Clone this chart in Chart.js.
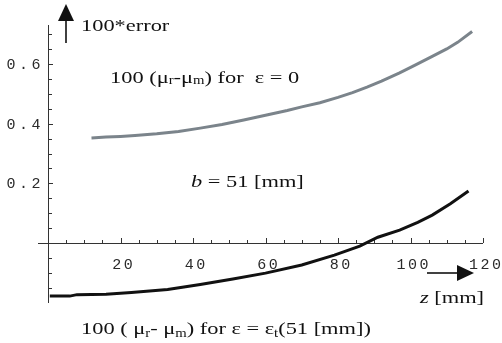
<!DOCTYPE html>
<html>
<head>
<meta charset="utf-8">
<script src="https://cdn.jsdelivr.net/npm/chart.js@4.4.1/dist/chart.umd.min.js"></script>
<style>
  html, body { margin: 0; padding: 0; background: #fff; }
  canvas { display: block; }
</style>
</head>
<body>
<canvas id="errChart" width="502" height="343"></canvas>
<script>
// z positions [mm] and 100*error values
const zGray = [12, 16, 20, 24, 30, 36, 42, 48, 54, 60, 66, 70, 75, 80, 84, 88, 92, 97, 101, 106, 110, 113, 117];
const errGray = [0.352, 0.355, 0.357, 0.360, 0.366, 0.374, 0.385, 0.397, 0.412, 0.428, 0.444, 0.456, 0.470, 0.488, 0.504, 0.522, 0.542, 0.570, 0.594, 0.625, 0.650, 0.672, 0.708];

const zBlack = [0.5, 6, 8, 16, 23, 33, 42, 51, 60, 70, 79, 86, 91, 97, 102, 106, 111, 116];
const errBlack = [-0.177, -0.177, -0.172, -0.171, -0.165, -0.155, -0.138, -0.120, -0.100, -0.073, -0.040, -0.010, 0.020, 0.044, 0.070, 0.094, 0.132, 0.175];

const xTickLabels = [20, 40, 60, 80, 100, 120];
const yTickLabels = [0.2, 0.4, 0.6];

const SX = 1.28; // the picture is stretched sideways

function drawRich(ctx, x, y, parts) {
    ctx.save();
    ctx.translate(x, y);
    ctx.scale(SX, 1);
    let cx = 0;
    parts.forEach(p => {
        ctx.font = p.f;
        ctx.fillText(p.t, cx, p.dy || 0);
        cx += ctx.measureText(p.t).width;
    });
    ctx.restore();
}

const serif = '17.5px "Liberation Serif"';
const serifIt = 'italic 17.5px "Liberation Serif"';
const small = '11.5px "Liberation Serif"';

function arrow(ctx, x1, y1, x2, y2) {
    const a = Math.atan2(y2 - y1, x2 - x1);
    const len = 17, hw = 8;
    const bx = x2 - len * Math.cos(a), by = y2 - len * Math.sin(a);
    ctx.beginPath();
    ctx.moveTo(x1, y1);
    ctx.lineTo(bx, by);
    ctx.lineWidth = 1.6;
    ctx.strokeStyle = '#111';
    ctx.stroke();
    ctx.beginPath();
    ctx.moveTo(x2, y2);
    ctx.lineTo(bx + hw * Math.sin(a), by - hw * Math.cos(a));
    ctx.lineTo(bx - hw * Math.sin(a), by + hw * Math.cos(a));
    ctx.closePath();
    ctx.fillStyle = '#111';
    ctx.fill();
}

const axesPlugin = {
    id: 'mmaAxes',
    beforeDatasetsDraw(chart) {
        const ctx = chart.ctx;
        const xs = chart.scales.x, ys = chart.scales.y;
        const x0 = xs.getPixelForValue(0), y0 = ys.getPixelForValue(0);
        ctx.save();
        ctx.strokeStyle = '#333';
        ctx.lineWidth = 1;

        // axis lines
        ctx.beginPath();
        ctx.moveTo(x0 + 0.5, ys.getPixelForValue(ys.max));
        ctx.lineTo(x0 + 0.5, ys.getPixelForValue(ys.min));
        ctx.moveTo(x0 - 10, Math.round(y0) + 0.5);
        ctx.lineTo(xs.getPixelForValue(120), Math.round(y0) + 0.5);
        ctx.stroke();

        // x ticks every 5, pointing up
        ctx.beginPath();
        for (let v = 5; v <= 120; v += 5) {
            const px = Math.round(xs.getPixelForValue(v)) + 0.5;
            const h = v % 20 === 0 ? 5 : 3;
            ctx.moveTo(px, Math.round(y0));
            ctx.lineTo(px, Math.round(y0) - h);
        }
        // y ticks every 0.05, pointing right
        for (let k = -3; k <= 14; k++) {
            if (k === 0) continue;
            const py = Math.round(ys.getPixelForValue(k * 0.05)) + 0.5;
            const w = k % 4 === 0 ? 5 : 4;
            ctx.moveTo(x0, py);
            ctx.lineTo(x0 + w, py);
        }
        ctx.stroke();

        // tick labels (spaced monospace)
        ctx.fillStyle = '#2a2a2a';
        ctx.font = '15px "Liberation Mono"';
        ctx.textAlign = 'center';
        ctx.textBaseline = 'middle';
        xTickLabels.forEach(v => {
            const s = String(v);
            const step = 11.5;
            const c = xs.getPixelForValue(v) + 2;
            for (let i = 0; i < s.length; i++) {
                ctx.fillText(s[i], c + (i - (s.length - 1) / 2) * step, y0 + 22);
            }
        });
        yTickLabels.forEach(v => {
            const s = v.toFixed(1);
            const py = ys.getPixelForValue(v);
            for (let i = 0; i < s.length; i++) {
                ctx.fillText(s[i], 36 - (s.length - 1 - i) * 12.5, py + 1);
            }
        });
        ctx.restore();
    },
    afterDraw(chart) {
        const ctx = chart.ctx;
        ctx.save();
        ctx.fillStyle = '#111';
        ctx.textAlign = 'left';
        ctx.textBaseline = 'alphabetic';

        arrow(ctx, 66, 43, 66, 4);
        arrow(ctx, 427, 273, 474, 273);

        drawRich(ctx, 81, 31, [{ t: '100*error', f: serif }]);

        drawRich(ctx, 110, 83, [
            { t: '100 (\u03bc', f: serif },
            { t: 'r', f: small, dy: 1 },
            { t: '-\u03bc', f: serif },
            { t: 'm', f: small, dy: 1 },
            { t: ') for  \u03b5 = 0', f: serif }
        ]);

        drawRich(ctx, 191, 187, [
            { t: 'b', f: serifIt },
            { t: ' = 51 [mm]', f: serif }
        ]);

        drawRich(ctx, 420, 303, [
            { t: 'z', f: serifIt },
            { t: ' [mm]', f: serif }
        ]);

        drawRich(ctx, 81, 334, [
            { t: '100 ( \u03bc', f: serif },
            { t: 'r', f: small, dy: 3 },
            { t: '- \u03bc', f: serif },
            { t: 'm', f: small, dy: 3 },
            { t: ') for \u03b5 = \u03b5', f: serif },
            { t: 't', f: small, dy: 3 },
            { t: '(51 [mm])', f: serif }
        ]);
        ctx.restore();
    }
};

const ctx = document.getElementById('errChart').getContext('2d');
new Chart(ctx, {
    type: 'line',
    data: {
        datasets: [
            {
                label: 'eps = 0',
                data: zGray.map((z, i) => ({ x: z, y: errGray[i] })),
                borderColor: '#7b848b',
                borderWidth: 3,
                pointRadius: 0,
                tension: 0,
                fill: false
            },
            {
                label: 'eps = eps_t(51 mm)',
                data: zBlack.map((z, i) => ({ x: z, y: errBlack[i] })),
                borderColor: '#111',
                borderWidth: 3,
                pointRadius: 0,
                tension: 0,
                fill: false
            }
        ]
    },
    options: {
        responsive: false,
        animation: false,
        layout: { padding: { left: 48, right: 19, top: 25, bottom: 40 } },
        plugins: { legend: { display: false }, tooltip: { enabled: false } },
        scales: {
            x: { type: 'linear', min: 0, max: 120, display: false },
            y: { type: 'linear', min: -0.2, max: 0.73, display: false }
        }
    },
    plugins: [axesPlugin]
});
</script>
</body>
</html>
